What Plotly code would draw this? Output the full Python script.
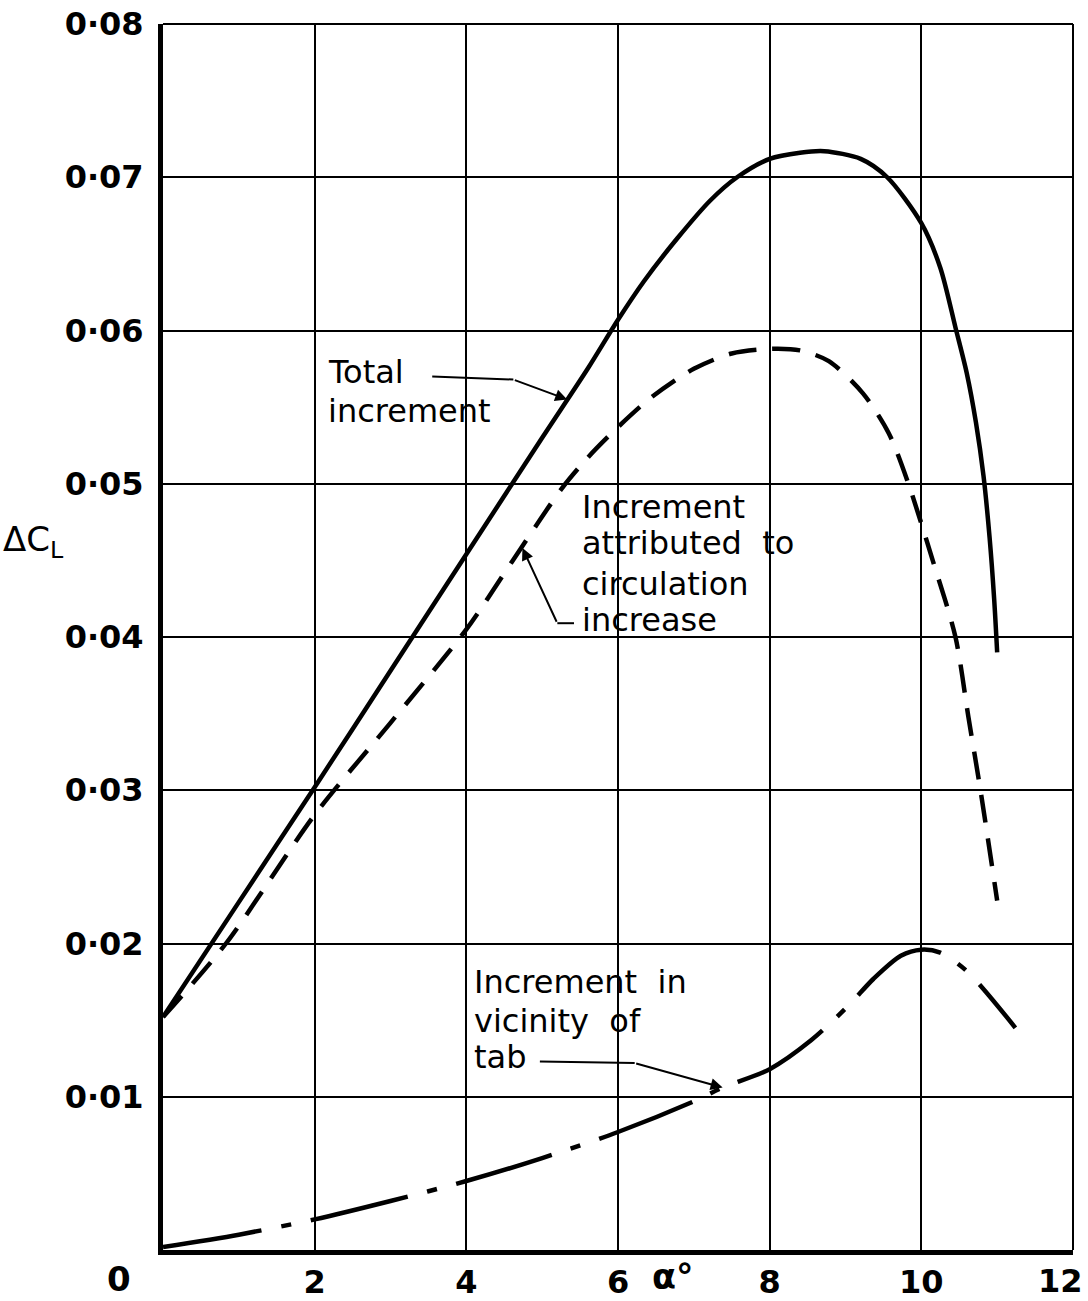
import plotly.graph_objects as go

# Angle of incidence (deg) and lift increments read for each curve
alpha_total = [0, 1, 2, 3, 4, 5, 5.6, 6, 6.34, 6.78, 7.22, 7.57, 8, 8.4, 8.72,
               9.2, 9.55, 10, 10.25, 10.45, 10.6, 10.72, 10.82, 10.9, 10.96,
               11.0]
dcl_total = [0.0152, 0.0227, 0.0302, 0.0378, 0.0454, 0.0530, 0.0575, 0.0607,
             0.0632, 0.0660, 0.0685, 0.0700, 0.0712, 0.0716, 0.0717, 0.0712,
             0.0700, 0.0670, 0.0641, 0.0602, 0.0572, 0.0540, 0.0505, 0.0465,
             0.0425, 0.0390]

alpha_circ = [0, 0.83, 2, 3, 4, 4.6, 5.26, 5.6, 6, 6.43, 7, 7.5, 8, 8.4, 8.78,
              9.23, 9.57, 9.83, 10.15, 10.45, 10.62, 10.78, 11.0]
dcl_circ = [0.0152, 0.0200, 0.0284, 0.0344, 0.0405, 0.0449, 0.0497, 0.0517,
            0.0537, 0.0556, 0.0575, 0.0585, 0.0588, 0.0587, 0.0580, 0.0559,
            0.0533, 0.0500, 0.0450, 0.0400, 0.0348, 0.0300, 0.0228]

alpha_tab = [0, 1, 2, 3, 4, 5, 6, 7, 7.38, 8, 8.55, 9.03, 9.37, 9.73, 10.0,
             10.25, 10.6, 11.24]
dcl_tab = [0.0002, 0.0010, 0.0020, 0.0032, 0.0045, 0.0060, 0.0077, 0.0097,
           0.0106, 0.0118, 0.0137, 0.0159, 0.0177, 0.0192, 0.0196, 0.0194,
           0.0182, 0.0145]

x_ticks = [2, 4, 6, 8, 10, 12]
x_ticktext = ["2", "4", "6", "8", "10", ""]
x_last_label = "12"
y_ticks = [0.01, 0.02, 0.03, 0.04, 0.05, 0.06, 0.07, 0.08]
y_ticktext = ["0·01", "0·02", "0·03", "0·04", "0·05", "0·06", "0·07", "0·08"]

LETTER = "DejaVu Sans, sans-serif"
INK = "black"

fig = go.Figure()

fig.add_trace(go.Scatter(
    x=alpha_total, y=dcl_total, mode="lines",
    line=dict(color=INK, width=4.5, shape="spline", smoothing=0.8),
    hoverinfo="skip", showlegend=False))

fig.add_trace(go.Scatter(
    x=alpha_circ, y=dcl_circ, mode="lines",
    line=dict(color=INK, width=4.5, shape="spline", smoothing=0.8,
              dash="28px,16px"),
    hoverinfo="skip", showlegend=False))

fig.add_trace(go.Scatter(
    x=alpha_tab, y=dcl_tab, mode="lines",
    line=dict(color=INK, width=4.5, shape="spline", smoothing=0.8,
              dash="100px,20px,10px,20px"),
    hoverinfo="skip", showlegend=False))

# Curve labels, one annotation per lettered line
text_font = dict(family=LETTER, size=32, color=INK)
label_lines = [
    (2.15, 0.05729, "Total"),
    (2.15, 0.05475, "increment"),
    (5.50, 0.04848, "Increment"),
    (5.50, 0.04613, "attributed  to"),
    (5.50, 0.04346, "circulation"),
    (5.50, 0.04111, "increase"),
    (4.07, 0.01749, "Increment  in"),
    (4.07, 0.01494, "vicinity  of"),
    (4.07, 0.01259, "tab"),
]
for lx, ly, txt in label_lines:
    fig.add_annotation(x=lx, y=ly, text=txt, showarrow=False,
                       xanchor="left", yanchor="middle", align="left",
                       font=text_font)

# Leader lines: straight run from the label, then an arrow onto the curve
leaders = [
    # (run start, run end / arrow tail, arrow tip on curve)
    ((3.55, 0.0570), (4.62, 0.0568), (5.33, 0.0555)),
    ((5.42, 0.0409), (5.2, 0.0409), (4.74, 0.0458)),
    ((4.97, 0.0123), (6.22, 0.0122), (7.38, 0.0106)),
]
for (x0, y0), (x1, y1), (xt, yt) in leaders:
    fig.add_shape(type="line", x0=x0, y0=y0, x1=x1, y1=y1, xref="x", yref="y",
                  line=dict(color=INK, width=2))
    fig.add_annotation(x=xt, y=yt, ax=x1, ay=y1, xref="x", yref="y",
                       axref="x", ayref="y", text="", showarrow=True,
                       arrowhead=2, arrowsize=1.2, arrowwidth=2,
                       arrowcolor=INK, standoff=0)

tick_font = dict(family=LETTER, size=32, color=INK, weight="bold")

# Axis titles, the shared origin label and the last alpha label
fig.add_annotation(x=0, y=0.0462, xref="paper", yref="y", xshift=-162,
                   text="ΔC<sub>L</sub>", showarrow=False, xanchor="left",
                   font=dict(family=LETTER, size=34, color=INK))
fig.add_annotation(x=6.72, y=0, xref="x", yref="y", yshift=-27,
                   text="<b>α°</b>", showarrow=False,
                   font=dict(family=LETTER, size=35, color=INK))
fig.add_annotation(x=0, y=0, xref="x", yref="y", xshift=-44, yshift=-29,
                   text="<b>0</b>", showarrow=False,
                   font=dict(family=LETTER, size=34, color=INK))
fig.add_annotation(x=12, y=0, xref="x", yref="y", xshift=12, yshift=-31,
                   xanchor="right", text=x_last_label, showarrow=False,
                   font=tick_font)

# Top and right edges of the grid frame
fig.add_shape(type="line", xref="paper", yref="paper", x0=0, x1=1, y0=1, y1=1,
              line=dict(color=INK, width=2))
fig.add_shape(type="line", xref="paper", yref="paper", x0=1, x1=1, y0=0, y1=1,
              line=dict(color=INK, width=2))

fig.update_xaxes(range=[0, 12], tickvals=x_ticks, ticktext=x_ticktext,
                 showgrid=True, gridcolor=INK, gridwidth=2,
                 showline=True, linecolor=INK, linewidth=5, zeroline=False,
                 ticks="", ticklabelstandoff=0, tickfont=tick_font,
                 ticklabeloverflow="allow", automargin=False,
                 fixedrange=True)
fig.update_yaxes(range=[0, 0.08], tickvals=y_ticks, ticktext=y_ticktext,
                 showgrid=True, gridcolor=INK, gridwidth=2,
                 showline=True, linecolor=INK, linewidth=5, zeroline=False,
                 ticks="", ticklabelstandoff=8, tickfont=tick_font,
                 ticklabeloverflow="allow", automargin=False,
                 fixedrange=True)

fig.update_layout(width=1088, height=1301,
                  margin=dict(l=163, r=15, t=24, b=51),
                  plot_bgcolor="white", paper_bgcolor="white",
                  showlegend=False)

fig.write_html("out.html")
